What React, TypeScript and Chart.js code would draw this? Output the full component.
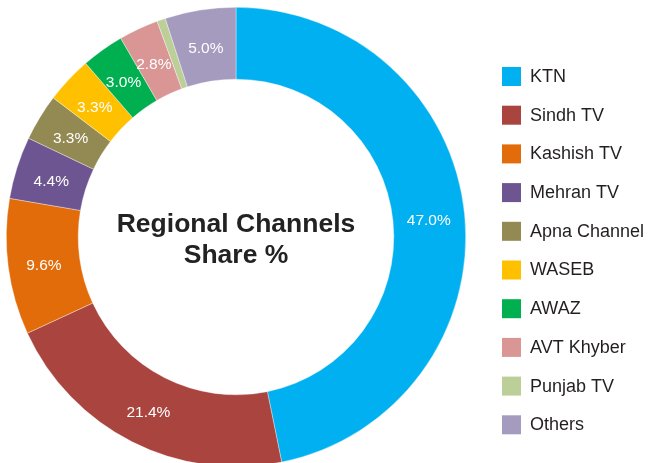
import React, { useEffect, useRef } from "react";
import { Chart, registerables } from "chart.js";

Chart.register(...registerables);

const categories = ["KTN", "Sindh TV", "Kashish TV", "Mehran TV", "Apna Channel", "WASEB", "AWAZ", "AVT Khyber", "Punjab TV", "Others"];
const shares = [47.0, 21.4, 9.6, 4.4, 3.3, 3.3, 3.0, 2.8, 0.6, 5.0];
const showLabel = [true, true, true, true, true, true, true, true, false, true];
const colors = ["#00B0F0", "#A9443F", "#E36C0A", "#6D5591", "#938953", "#FFC000", "#00B050", "#D99694", "#BCCF98", "#A59BBE"];
const centerTitle = ["Regional Channels", "Share %"];

const FONT = "'Liberation Sans', Arial, Helvetica, sans-serif";

const decorPlugin = {
  id: "decor",
  afterDatasetsDraw(chart: any) {
    const ctx = chart.ctx;
    const meta = chart.getDatasetMeta(0);
    ctx.save();
    // slice labels
    ctx.fillStyle = "#FFFFFF";
    ctx.font = `15.5px ${FONT}`;
    ctx.textAlign = "center";
    ctx.textBaseline = "middle";
    meta.data.forEach((arc: any, i: number) => {
      if (!showLabel[i]) return;
      const p = arc.tooltipPosition();
      ctx.fillText(shares[i].toFixed(1) + "%", p.x, p.y + 3);
    });
    // center title
    const first = meta.data[0];
    const cx = first.x;
    ctx.fillStyle = "#222222";
    ctx.font = `bold 26.5px ${FONT}`;
    ctx.textBaseline = "alphabetic";
    ctx.fillText(centerTitle[0], cx, 232);
    ctx.fillText(centerTitle[1], cx, 263);
    // legend
    ctx.textAlign = "left";
    ctx.textBaseline = "middle";
    ctx.font = `18px ${FONT}`;
    categories.forEach((c, i) => {
      const y = 67 + i * 38.7;
      ctx.fillStyle = colors[i];
      ctx.fillRect(502, y, 19, 19);
      ctx.fillStyle = "#231F20";
      ctx.fillText(c, 530, y + 10);
    });
    ctx.restore();
  },
};

export default function App() {
  const ref = useRef<HTMLCanvasElement>(null);
  useEffect(() => {
    document.body.style.margin = "0";
    const chart = new Chart(ref.current!, {
      type: "doughnut",
      data: {
        labels: categories,
        datasets: [
          {
            data: shares,
            backgroundColor: colors,
            borderColor: "rgba(255,255,255,0.6)",
            borderWidth: 0.6,
          },
        ],
      },
      options: {
        responsive: false,
        animation: false,
        cutout: "68.7%",
        layout: { padding: { left: 6, right: 182, top: 7, bottom: 3 } },
        plugins: {
          legend: { display: false },
          tooltip: { enabled: false },
        },
      },
      plugins: [decorPlugin],
    });
    return () => chart.destroy();
  }, []);
  return (
    <div style={{ width: 648, height: 463, background: "#fff", overflow: "hidden" }}>
      <canvas ref={ref} width={648} height={470} style={{ display: "block" }} />
    </div>
  );
}
